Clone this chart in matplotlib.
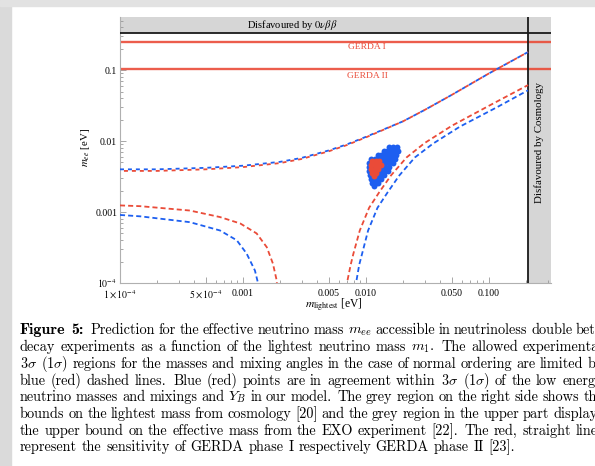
import matplotlib.pyplot as plt
from matplotlib.patches import Rectangle
from matplotlib.ticker import FixedLocator, FixedFormatter, NullFormatter

plt.rcParams['font.family'] = ['Liberation Serif', 'DejaVu Serif']
plt.rcParams['mathtext.fontset'] = 'stix'

# values, m_lightest and m_ee in eV
m_upper = [1e-4, 2e-4, 5e-4, 1e-3, 2e-3, 3e-3, 5e-3, 7e-3, 0.01, 0.02, 0.03, 0.05, 0.1, 0.2075]
upper_blue = [0.0040, 0.0040, 0.0042, 0.0045, 0.0051, 0.0058, 0.0074, 0.0090, 0.0115, 0.0190, 0.0275, 0.045, 0.090, 0.18]
upper_red = [0.0038, 0.0038, 0.0040, 0.0043, 0.0049, 0.0056, 0.0072, 0.0088, 0.0113, 0.0190, 0.0275, 0.045, 0.090, 0.18]

red_left_m = [1e-4, 1.46e-4, 3.7e-4, 6.5e-4, 9.5e-4, 1.29e-3, 1.56e-3, 1.75e-3, 1.88e-3, 1.93e-3]
red_left_mee = [0.00124, 0.00121, 0.00105, 0.00085, 0.00069, 0.00050, 0.00032, 0.000188, 0.000108, 0.00005]
blue_left_m = [1e-4, 1.46e-4, 3.7e-4, 6.5e-4, 8.9e-4, 1.07e-3, 1.25e-3, 1.32e-3, 1.36e-3]
blue_left_mee = [0.00091, 0.00087, 0.00072, 0.00055, 0.00040, 0.00026, 0.00015, 0.000102, 0.00005]

red_right_m = [6.95e-3, 7.0e-3, 7.5e-3, 7.9e-3, 8.9e-3, 0.0106, 0.0128, 0.0160, 0.0214, 0.030, 0.050, 0.100, 0.2075]
red_right_mee = [5e-5, 1.0e-4, 1.8e-4, 2.6e-4, 5.5e-4, 1.15e-3, 1.9e-3, 3.3e-3, 5.9e-3, 9.4e-3, 0.0165, 0.0315, 0.0616]
blue_right_m = [8.25e-3, 8.3e-3, 8.8e-3, 9.3e-3, 0.0104, 0.0124, 0.0150, 0.0187, 0.025, 0.035, 0.058, 0.116, 0.2075]
blue_right_mee = [5e-5, 1.0e-4, 1.8e-4, 2.6e-4, 5.5e-4, 1.15e-3, 1.9e-3, 3.3e-3, 5.9e-3, 9.2e-3, 0.0160, 0.0300, 0.052]

# scatter blob, one m_ee value per row with the m values of that row
blue_rows_mee = [0.00818, 0.00718, 0.00630, 0.00553, 0.00486, 0.00427, 0.00375, 0.00329, 0.00289, 0.00254, 0.00230]
blue_rows_m = [
    [0.01540, 0.01658, 0.01786],
    [0.01400, 0.01490, 0.01580, 0.01688, 0.01818],
    [0.01250, 0.01330, 0.01420, 0.01509, 0.01626, 0.01752],
    [0.01098, 0.01183, 0.01275, 0.01375, 0.01481, 0.01596, 0.01720],
    [0.01058, 0.01140, 0.01228, 0.01324, 0.01427, 0.01537, 0.01650],
    [0.01058, 0.01140, 0.01228, 0.01324, 0.01427, 0.01540],
    [0.01058, 0.01140, 0.01228, 0.01324, 0.01427, 0.01500],
    [0.01078, 0.01161, 0.01252, 0.01349, 0.01410],
    [0.01098, 0.01183, 0.01275, 0.01330],
    [0.01119, 0.01206, 0.01260],
    [0.01161],
]
red_rows_mee = [0.00518, 0.00455, 0.00400, 0.00351, 0.00318]
red_rows_m = [
    [0.01119, 0.01206, 0.01280],
    [0.01098, 0.01183, 0.01275, 0.01330],
    [0.01098, 0.01183, 0.01260],
    [0.01119, 0.01206],
    [0.01161],
]

exo_bound = 0.333
cosmo_bound = 0.2075
gerda_1 = 0.251
gerda_2 = 0.1033

x_major = [1e-4, 5e-4, 1e-3, 5e-3, 1e-2, 5e-2, 1e-1]
x_labels = [r'$1\times10^{-4}$', r'$5\times10^{-4}$', '0.001', '0.005', '0.010', '0.050', '0.100']
y_major = [1e-4, 1e-3, 1e-2, 1e-1]
y_labels = [r'$10^{-4}$', '0.001', '0.01', '0.1']

caption_head = 'Figure 5:'
caption = [
    r'Prediction for the effective neutrino mass $m_{ee}$ accessible in neutrinoless double beta',
    r'decay experiments as a function of the lightest neutrino mass $m_1$. The allowed experimental',
    r'$3\sigma$ $(1\sigma)$ regions for the masses and mixing angles in the case of normal ordering are limited by',
    r'blue (red) dashed lines. Blue (red) points are in agreement within $3\sigma$ $(1\sigma)$ of the low energy',
    r'neutrino masses and mixings and $Y_B$ in our model. The grey region on the right side shows the',
    r'bounds on the lightest mass from cosmology [20] and the grey region in the upper part displays',
    r'the upper bound on the effective mass from the EXO experiment [22]. The red, straight lines',
    r'represent the sensitivity of GERDA phase I respectively GERDA phase II [23].',
]

BLUE = '#1d5ff0'
RED = '#ea4b38'

fig = plt.figure(figsize=(5.95, 4.66), dpi=100)
W, H = 595.0, 466.0

# screenshot borders
fig.patches.append(Rectangle((0, 0), 11 / W, 1, transform=fig.transFigure, color='#dadada', zorder=-5))
fig.patches.append(Rectangle((0, 1 - 6 / H), 1, 6 / H, transform=fig.transFigure, color='#e2e2e2', zorder=-5))

ax = fig.add_axes([120 / W, 1 - 283 / H, 431 / W, 266 / H])
ax.set_xscale('log')
ax.set_yscale('log')
ax.set_xlim(1e-4, 0.319)
ax.set_ylim(1e-4, 0.561)

# disfavoured regions
ax.axhspan(exo_bound, 1, color='#d6d6d6', lw=0, zorder=0)
ax.axvspan(cosmo_bound, 1, color='#d6d6d6', lw=0, zorder=0)
ax.axhline(exo_bound, color='#1a1a1a', lw=1.3, zorder=3)
ax.axvline(cosmo_bound, color='#1a1a1a', lw=1.3, zorder=3)

# GERDA sensitivities
ax.axhline(gerda_1, color=RED, lw=1.7, alpha=0.9, zorder=2)
ax.axhline(gerda_2, color=RED, lw=1.7, alpha=0.9, zorder=2)
ax.text(0.0102, 0.211, 'GERDA I', color=RED, fontsize=6.8, ha='center', va='center')
ax.text(0.0102, 0.082, 'GERDA II', color=RED, fontsize=6.8, ha='center', va='center')

ax.text(0.0025, 0.432, r'Disfavoured by $0\nu\beta\beta$', fontsize=7.6, ha='center', va='center')
ax.text(0.255, 0.0096, 'Disfavoured by Cosmology', fontsize=7.8, rotation=90, ha='center', va='center')

# bounds from the oscillation data
ax.plot(m_upper, upper_blue, color=BLUE, lw=1.3, ls=(0, (2.2, 2.2)), zorder=4)
ax.plot(m_upper, upper_red, color=RED, lw=1.3, ls=(2.2, (2.2, 2.2)), zorder=4)
ax.plot(red_left_m, red_left_mee, color=RED, lw=1.3, ls=(0, (2.8, 1.7)), zorder=4)
ax.plot(blue_left_m, blue_left_mee, color=BLUE, lw=1.3, ls=(0, (2.8, 1.7)), zorder=4)
ax.plot(red_right_m, red_right_mee, color=RED, lw=1.3, ls=(0, (2.8, 1.7)), zorder=4)
ax.plot(blue_right_m, blue_right_mee, color=BLUE, lw=1.3, ls=(0, (2.8, 1.7)), zorder=4)

# model points
bx = [m for row in blue_rows_m for m in row]
by = [y for row, y in zip(blue_rows_m, blue_rows_mee) for m in row]
rx = [m for row in red_rows_m for m in row]
ry = [y for row, y in zip(red_rows_m, red_rows_mee) for m in row]
ax.scatter(bx, by, s=18, color=BLUE, lw=0, zorder=5)
ax.scatter(rx, ry, s=18, color=RED, lw=0, zorder=6)

# axes in the Mathematica look
for side in ['top', 'right']:
    ax.spines[side].set_visible(False)
for side in ['left', 'bottom']:
    ax.spines[side].set_color('#b0b0b0')
    ax.spines[side].set_linewidth(0.8)

x_minor = [k * 10.0 ** e for e in range(-4, 0) for k in range(2, 10) if k * 10.0 ** e not in x_major and k * 10.0 ** e < 0.32]
y_minor = [k * 10.0 ** e for e in range(-4, 0) for k in range(2, 10) if k * 10.0 ** e < 0.56]
ax.xaxis.set_major_locator(FixedLocator(x_major))
ax.xaxis.set_major_formatter(FixedFormatter(x_labels))
ax.xaxis.set_minor_locator(FixedLocator(x_minor))
ax.xaxis.set_minor_formatter(NullFormatter())
ax.yaxis.set_major_locator(FixedLocator(y_major))
ax.yaxis.set_major_formatter(FixedFormatter(y_labels))
ax.yaxis.set_minor_locator(FixedLocator(y_minor))
ax.yaxis.set_minor_formatter(NullFormatter())
ax.tick_params(which='both', direction='in', color='#999999', width=0.6, labelsize=7)
ax.tick_params(axis='x', pad=4)
ax.tick_params(axis='y', pad=2)
ax.tick_params(which='major', length=4)
ax.tick_params(which='minor', length=2)

ax.text(0.497, -0.083, r'$m_{\rm lightest}$ [eV]', transform=ax.transAxes, fontsize=8.3, ha='center', va='center')
ax.text(-0.081, 0.51, r'$m_{ee}$ [eV]', transform=ax.transAxes, fontsize=7.8, rotation=90, ha='center', va='center')

# caption of the paper, justified like the LaTeX original (right margin lies outside the screenshot)
cap_size = 10.3
right_margin = 603
baselines = [334, 351, 368, 385, 401, 418, 435, 451]
renderer = fig.canvas.get_renderer()


def put_line(words, x, y, justify, family='cmr10', size=cap_size):
    texts = [fig.text(0, 1 - y / H, w, family=family, math_fontfamily='cm', fontsize=size, va='baseline')
             for w in words]
    widths = [t.get_window_extent(renderer).width for t in texts]
    weights = [1.4 if w.endswith('.') else 1.0 for w in words[:-1]]
    space = size * 100 / 72 * 0.333
    if justify and weights:
        space = (right_margin - x - sum(widths)) / sum(weights)
    for k, t in enumerate(texts):
        t.set_x(x / W)
        if k < len(weights):
            x += widths[k] + space * weights[k]
    return x + widths[-1]


head_end = put_line(caption_head.split(' '), 20, baselines[0], justify=False, family='cmb10', size=11.5)
for i, (txt, yy) in enumerate(zip(caption, baselines)):
    x0 = head_end + 7 if i == 0 else 20
    put_line(txt.split(' '), x0, yy, justify=(i < len(caption) - 1))

fig.savefig('out.png', dpi=100)
